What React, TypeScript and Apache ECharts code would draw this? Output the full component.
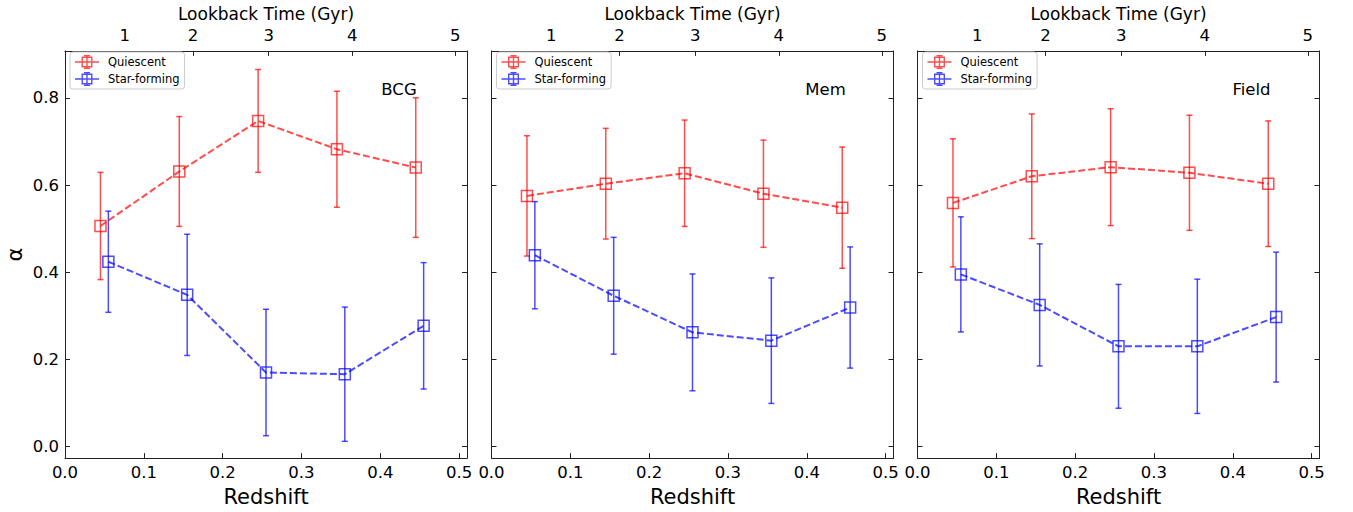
import React, { useEffect, useRef } from "react";
import * as echarts from "echarts";

// ---- data ----
const zQ = [0.045, 0.145, 0.245, 0.345, 0.445];
const zSF = [0.055, 0.155, 0.255, 0.355, 0.455];

const bcgQ = [0.506, 0.631, 0.747, 0.682, 0.640];
const bcgQErr = [0.123, 0.126, 0.118, 0.133, 0.160];
const bcgSF = [0.424, 0.348, 0.170, 0.166, 0.277];
const bcgSFErr = [0.116, 0.139, 0.145, 0.154, 0.145];

const memQ = [0.575, 0.603, 0.627, 0.580, 0.548];
const memQErr = [0.138, 0.127, 0.122, 0.123, 0.139];
const memSF = [0.439, 0.346, 0.262, 0.243, 0.319];
const memSFErr = [0.123, 0.134, 0.134, 0.144, 0.139];

const fieldQ = [0.559, 0.620, 0.641, 0.628, 0.603];
const fieldQErr = [0.147, 0.143, 0.134, 0.132, 0.144];
const fieldSF = [0.395, 0.325, 0.230, 0.230, 0.297];
const fieldSFErr = [0.132, 0.140, 0.142, 0.154, 0.149];

const panelLabels = ["BCG", "Mem", "Field"];
const seriesNames = ["Quiescent", "Star-forming"];

const redshiftTicks = [0, 0.1, 0.2, 0.3, 0.4, 0.5];
const alphaTicks = [0, 0.2, 0.4, 0.6, 0.8];
const lookbackTicks = [1, 2, 3, 4, 5];
const lookbackZ = [0.0759, 0.1625, 0.2584, 0.3645, 0.4951];

// ---- styling ----
const RED = "rgba(255,0,0,0.7)";
const BLUE = "rgba(0,0,255,0.7)";
const FONT = "DejaVu Sans";
const AXIS_COLOR = "#222";
const X_MIN = 0;
const X_MAX = 0.51;
const Y_MIN = -0.0264;
const Y_MAX = 0.9076;
const GRID_LEFTS = [65, 491.5, 917.5];
const GRID_TOP = 47;
const GRID_W = 402;
const GRID_H = 413;

const LEGEND_ICON =
  "path://M0 7.25H24V8.75H0Z" +
  "M11.3 1H12.7V15H11.3Z" +
  "M9 1H15V2.2H9Z" +
  "M9 13.8H15V15H9Z" +
  "M6.5 2.5H17.5V3.9H6.5Z" +
  "M6.5 12.1H17.5V13.5H6.5Z" +
  "M6.5 2.5H7.9V13.5H6.5Z" +
  "M16.1 2.5H17.5V13.5H16.1Z";

const panels = [
  { q: bcgQ, qe: bcgQErr, sf: bcgSF, sfe: bcgSFErr },
  { q: memQ, qe: memQErr, sf: memSF, sfe: memSFErr },
  { q: fieldQ, qe: fieldQErr, sf: fieldSF, sfe: fieldSFErr },
];

function errRender(color: string) {
  return (params: any, api: any) => {
    const x = api.value(0);
    const y = api.value(1);
    const e = api.value(2);
    const top = api.coord([x, y + e]);
    const bot = api.coord([x, y - e]);
    const hw = 3;
    const style = { stroke: color, lineWidth: 1.5 };
    return {
      type: "group",
      children: [
        { type: "line", shape: { x1: top[0], y1: top[1], x2: bot[0], y2: bot[1] }, style },
        { type: "line", shape: { x1: top[0] - hw, y1: top[1], x2: top[0] + hw, y2: top[1] }, style },
        { type: "line", shape: { x1: bot[0] - hw, y1: bot[1], x2: bot[0] + hw, y2: bot[1] }, style },
      ],
    };
  };
}

function buildOption() {
  const grid: any[] = [];
  const xAxis: any[] = [];
  const yAxis: any[] = [];
  const series: any[] = [];
  const legend: any[] = [];
  const graphic: any[] = [];

  const axisLine = { show: true, onZero: false, lineStyle: { color: AXIS_COLOR, width: 1 } };
  const tick = (vals: number[]) => ({
    show: true,
    inside: true,
    length: 5,
    customValues: vals,
    lineStyle: { color: AXIS_COLOR, width: 1 },
  });

  panels.forEach((p, g) => {
    const left = GRID_LEFTS[g];
    grid.push({ left, top: GRID_TOP, width: GRID_W, height: GRID_H, containLabel: false });

    xAxis.push({
      type: "value",
      gridIndex: g,
      position: "bottom",
      min: X_MIN,
      max: X_MAX,
      axisLine,
      axisTick: tick(redshiftTicks),
      splitLine: { show: false },
      axisLabel: {
        customValues: redshiftTicks,
        formatter: (v: number) => v.toFixed(1),
        color: "#000",
        fontSize: 16.5,
        fontFamily: FONT,
        margin: 6,
      },
      name: "Redshift",
      nameLocation: "middle",
      nameGap: 26,
      nameTextStyle: { fontSize: 21, color: "#000", fontFamily: FONT },
    });
    xAxis.push({
      type: "value",
      gridIndex: g,
      position: "top",
      min: X_MIN,
      max: X_MAX,
      axisLine,
      axisTick: tick(lookbackZ),
      splitLine: { show: false },
      axisLabel: {
        customValues: lookbackZ,
        formatter: (v: number) => {
          const i = lookbackZ.findIndex((z) => Math.abs(z - v) < 1e-6);
          return i >= 0 ? String(lookbackTicks[i]) : "";
        },
        color: "#000",
        fontSize: 16.5,
        fontFamily: FONT,
        margin: 7,
      },
      name: "Lookback Time (Gyr)",
      nameLocation: "middle",
      nameGap: 27,
      nameTextStyle: { fontSize: 17, color: "#000", fontFamily: FONT },
    });

    yAxis.push({
      type: "value",
      gridIndex: g,
      position: "left",
      min: Y_MIN,
      max: Y_MAX,
      axisLine,
      axisTick: tick(alphaTicks),
      splitLine: { show: false },
      axisLabel: {
        show: g === 0,
        customValues: alphaTicks,
        formatter: (v: number) => v.toFixed(1),
        color: "#000",
        fontSize: 16.5,
        fontFamily: FONT,
        margin: 6,
      },
      name: g === 0 ? "α" : "",
      nameLocation: "middle",
      nameGap: 40,
      nameTextStyle: { fontSize: 21, color: "#000", fontFamily: FONT },
    });
    yAxis.push({
      type: "value",
      gridIndex: g,
      position: "right",
      min: Y_MIN,
      max: Y_MAX,
      axisLine,
      axisTick: tick(alphaTicks),
      splitLine: { show: false },
      axisLabel: { show: false },
    });

    const xi = 2 * g;
    const yi = 2 * g;
    const groups = [
      { name: seriesNames[0], z: zQ, v: p.q, e: p.qe, color: RED },
      { name: seriesNames[1], z: zSF, v: p.sf, e: p.sfe, color: BLUE },
    ];
    groups.forEach((s) => {
      series.push({
        type: "custom",
        name: s.name + " error",
        xAxisIndex: xi,
        yAxisIndex: yi,
        renderItem: errRender(s.color),
        data: s.z.map((z, i) => [z, s.v[i], s.e[i]]),
        encode: { x: 0, y: 1 },
        z: 2,
        silent: true,
      });
      series.push({
        type: "line",
        name: s.name,
        xAxisIndex: xi,
        yAxisIndex: yi,
        data: s.z.map((z, i) => [z, s.v[i]]),
        symbol: "rect",
        symbolSize: 11,
        itemStyle: { color: "rgba(0,0,0,0)", borderColor: s.color, borderWidth: 1.5 },
        lineStyle: { color: s.color, width: 2, type: [7, 3] },
        z: 3,
      });
    });

    legend.push({
      orient: "vertical",
      left: left + 5,
      top: 52,
      itemWidth: 24,
      itemHeight: 16,
      itemGap: 3,
      padding: [3, 5, 3, 5],
      borderColor: "#cccccc",
      borderWidth: 1,
      borderRadius: 3,
      backgroundColor: "#fff",
      selectedMode: false,
      formatter: "{t|{name}}",
      textStyle: {
        fontSize: 11.5,
        color: "#000",
        fontFamily: FONT,
        rich: { t: { fontSize: 11.5, color: "#000", fontFamily: FONT, padding: [0, 0, 0, 4] } },
      },
      data: [
        { name: seriesNames[0], icon: LEGEND_ICON, itemStyle: { color: RED, borderWidth: 0 } },
        { name: seriesNames[1], icon: LEGEND_ICON, itemStyle: { color: BLUE, borderWidth: 0 } },
      ],
    });

    graphic.push({
      type: "text",
      x: left + 334,
      y: 89,
      style: {
        text: panelLabels[g],
        fontSize: 16.5,
        fontFamily: FONT,
        fill: "#000",
        align: "center",
        verticalAlign: "middle",
      },
      z: 10,
    });
  });

  return {
    animation: false,
    backgroundColor: "#fff",
    textStyle: { fontFamily: FONT },
    grid,
    xAxis,
    yAxis,
    series,
    legend,
    graphic,
  };
}

export default function App() {
  const ref = useRef<HTMLDivElement>(null);
  useEffect(() => {
    if (!ref.current) return;
    const chart = echarts.init(ref.current, undefined, { renderer: "svg" });
    chart.setOption(buildOption() as any);
    return () => chart.dispose();
  }, []);
  return (
    <div
      ref={ref}
      style={{ position: "fixed", left: 0, top: 0, width: 1353, height: 512, background: "#fff" }}
    />
  );
}
